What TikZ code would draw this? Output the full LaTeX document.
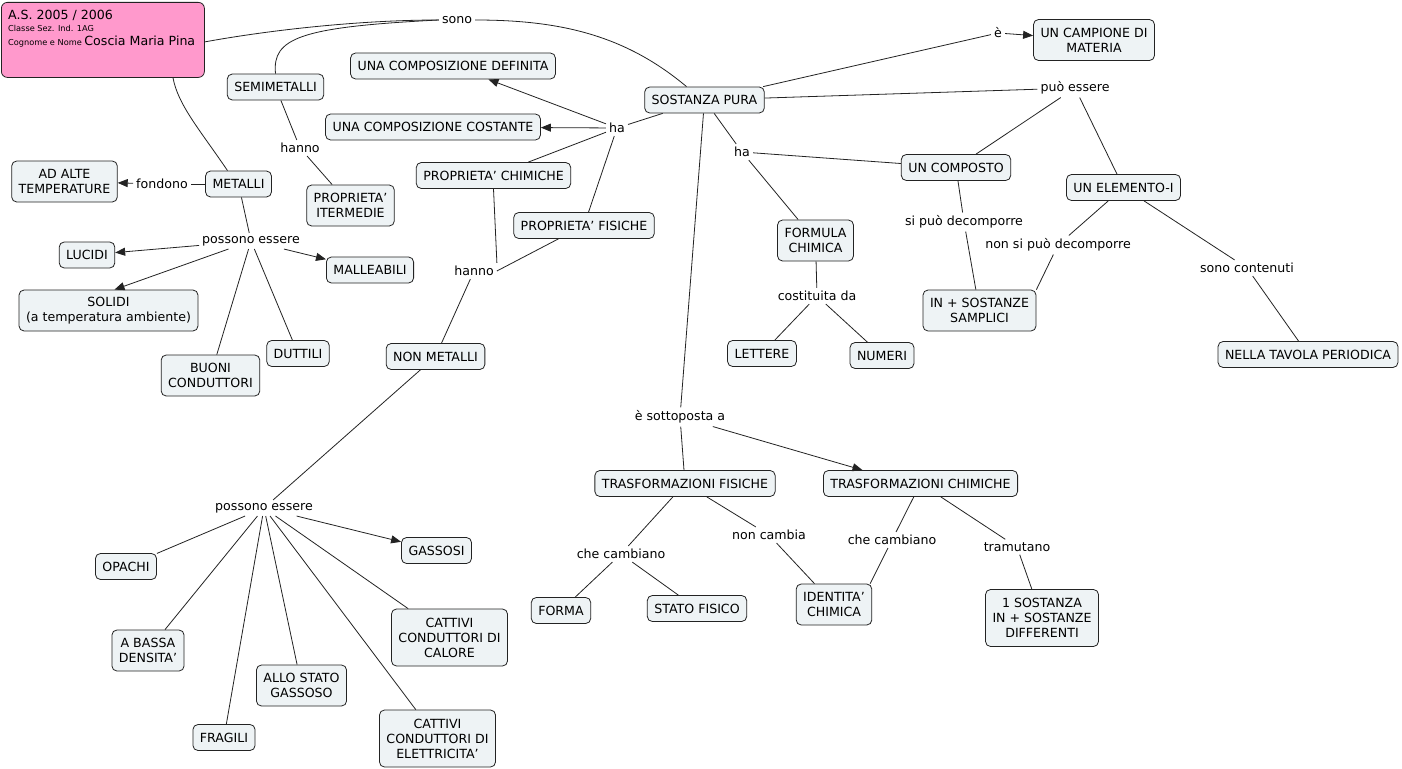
\documentclass[tikz,border=0pt]{standalone}
\usepackage{fontspec}
\setmainfont{DejaVu Sans}
\usetikzlibrary{arrows.meta}
\definecolor{boxfill}{RGB}{238,243,245}
\definecolor{pinkfill}{RGB}{255,153,204}
\definecolor{edgec}{RGB}{35,35,35}
\newcommand{\mapfont}{\fontsize{12.6}{15}\selectfont}
\newcommand{\tinyfont}{\fontsize{8.2}{9}\selectfont}
\begin{document}
\begin{tikzpicture}[x=1pt,y=-1pt,
  concept/.style={draw=edgec, fill=boxfill, rounded corners=5pt, line width=0.8pt,
    inner xsep=7pt, inner ysep=2pt, minimum height=26pt, align=center, font=\mapfont},
  two/.style={minimum height=41pt},
  three/.style={minimum height=57pt},
  lab/.style={inner sep=3pt, font=\mapfont},
  link/.style={draw=edgec, line width=0.8pt},
  arr/.style={link, -{Triangle[length=10pt,width=8pt]}}
]
\useasboundingbox (0,0) rectangle (1402,768);
\fill[white] (0,0) rectangle (1402,768);

% title
\node[draw=edgec, fill=pinkfill, rounded corners=6pt, line width=0.8pt, minimum width=203pt,
  minimum height=75pt, anchor=north west, inner sep=0pt] (title) at (1,2) {};
\node[anchor=base west, inner sep=0pt, font=\mapfont] (t1) at (8,20) {A.S. 2005 / 2006};
\node[anchor=base west, inner sep=0pt, font=\tinyfont] (t2) at (8,32) {Classe Sez. Ind. 1AG};
\node[anchor=base west, inner sep=0pt] (t3) at (8,46) {\tinyfont Cognome e Nome {\mapfont Coscia Maria Pina}};

% concepts
\node[concept] (semi) at (275.5,87) {SEMIMETALLI};
\node[concept] (def) at (453,66) {UNA COMPOSIZIONE DEFINITA};
\node[concept] (cost) at (433,127) {UNA COMPOSIZIONE COSTANTE};
\node[concept] (sp) at (704.5,100) {SOSTANZA PURA};
\node[concept,two] (camp) at (1094,40) {UN CAMPIONE DI\\MATERIA};
\node[concept,two] (alte) at (64.5,181.5) {AD ALTE\\TEMPERATURE};
\node[concept] (met) at (238.5,184) {METALLI};
\node[concept,two] (inter) at (350.5,205.5) {PROPRIETA'\\ITERMEDIE};
\node[concept] (chim) at (493.5,175.5) {PROPRIETA' CHIMICHE};
\node[concept] (fis) at (584,225.5) {PROPRIETA' FISICHE};
\node[concept] (comp) at (956,167.5) {UN COMPOSTO};
\node[concept] (elem) at (1123.5,187.5) {UN ELEMENTO-I};
\node[concept,two] (form) at (815.5,240.5) {FORMULA\\CHIMICA};
\node[concept] (luc) at (87,255) {LUCIDI};
\node[concept] (mall) at (370,270) {MALLEABILI};
\node[concept,two] (sol) at (108.5,310.5) {SOLIDI\\(a temperatura ambiente)};
\node[concept,two] (insost) at (979.5,310.5) {IN + SOSTANZE\\SAMPLICI};
\node[concept,two] (buoni) at (210.5,375.5) {BUONI\\CONDUTTORI};
\node[concept] (dutt) at (298,353.5) {DUTTILI};
\node[concept] (nonmet) at (435.5,356.5) {NON METALLI};
\node[concept] (lett) at (762,353.5) {LETTERE};
\node[concept] (num) at (882,355.5) {NUMERI};
\node[concept] (tav) at (1308,354.5) {NELLA TAVOLA PERIODICA};
\node[concept] (tf) at (685,483.5) {TRASFORMAZIONI FISICHE};
\node[concept] (tc) at (920.5,483.5) {TRASFORMAZIONI CHIMICHE};
\node[concept] (gas) at (436.5,550.5) {GASSOSI};
\node[concept] (opa) at (126,566.5) {OPACHI};
\node[concept] (forma) at (561,610.5) {FORMA};
\node[concept] (stato) at (697,608.5) {STATO FISICO};
\node[concept,two] (ident) at (834,604.5) {IDENTITA'\\CHIMICA};
\node[concept,three] (una) at (1042,618) {1 SOSTANZA\\IN + SOSTANZE\\DIFFERENTI};
\node[concept,three] (calore) at (449.5,637.5) {CATTIVI\\CONDUTTORI DI\\CALORE};
\node[concept,two] (bassa) at (148,650.5) {A BASSA\\DENSITA'};
\node[concept,two] (allo) at (301.5,685.5) {ALLO STATO\\GASSOSO};
\node[concept] (frag) at (224,737.5) {FRAGILI};
\node[concept,three] (elet) at (437.5,738.5) {CATTIVI\\CONDUTTORI DI\\ELETTRICITA'};

% link labels
\node[lab] (sono) at (457,20) {sono};
\node[lab] (e) at (998,33) {è};
\node[lab] (puo) at (1075,88) {può essere};
\node[lab] (ha1) at (617,128) {ha};
\node[lab] (ha2) at (742,152) {ha};
\node[lab] (hanno1) at (300,148) {hanno};
\node[lab] (fond) at (162,184) {fondono};
\node[lab] (pe1) at (251,241) {possono essere};
\node[lab] (hanno2) at (474,271) {hanno};
\node[lab] (sipuo) at (964,222) {si può decomporre};
\node[lab] (nonsi) at (1058,245) {non si può decomporre};
\node[lab] (cont) at (1247,268) {sono contenuti};
\node[lab] (costit) at (817,296) {costituita da};
\node[lab] (sottop) at (680,417) {è sottoposta a};
\node[lab] (pe2) at (264,508) {possono essere};
\node[lab] (cc1) at (621,554) {che cambiano};
\node[lab] (noncam) at (769,535) {non cambia};
\node[lab] (cc2) at (892,540) {che cambiano};
\node[lab] (tram) at (1017,547) {tramutano};

% curved links near the title
\draw[link] ([yshift=-2pt]title.east) .. controls (270,30) and (360,20) .. (sono.west);
\draw[link] (semi.north) .. controls (272,38) and (300,27) .. (sono.west);
\draw[link] ([xshift=172pt]title.south west) .. controls (178,105) and (200,130) .. ([xshift=-11pt]met.north);
\draw[link] (sono.east) .. controls (560,20) and (625,35) .. ([xshift=-18pt]sp.north);

% links
\draw[link] (sp) -- (e);
\draw[arr] (e) -- (camp);
\draw[link] (sp) -- (puo);
\draw[link] (puo) -- (comp);
\draw[link] (puo) -- (elem);
\draw[link] (sp) -- (ha1);
\draw[arr] (ha1) -- (def);
\draw[arr] (ha1) -- (cost);
\draw[link] (ha1) -- (chim);
\draw[link] (ha1) -- (fis);
\draw[link] (sp) -- (ha2);
\draw[link] (ha2) -- (comp);
\draw[link] (ha2) -- (form);
\draw[link] (sp) -- (sottop);
\draw[link] (sottop) -- (tf);
\draw[arr] (sottop) -- ([xshift=-58pt]tc.north);
\draw[link] (tf) -- (cc1);
\draw[link] (cc1) -- (forma);
\draw[link] (cc1) -- (stato);
\draw[link] (tf) -- (noncam);
\draw[link] (noncam) -- (ident);
\draw[link] (tc) -- (cc2);
\draw[link] (cc2) -- ([xshift=-2pt]ident.north east);
\draw[link] (tc) -- (tram);
\draw[link] (tram) -- (una);
\draw[link] (semi) -- (hanno1);
\draw[link] (hanno1) -- (inter);
\draw[link] (met) -- (fond);
\draw[arr] (fond) -- (alte);
\draw[link] (met) -- (pe1);
\draw[arr] (pe1) -- (luc);
\draw[arr] (pe1) -- ([xshift=6pt]sol.north);
\draw[arr] (pe1) -- (mall);
\draw[link] (pe1) -- (buoni);
\draw[link] (pe1) -- (dutt);
\draw[link] (chim.south) -- (hanno2.north east);
\draw[link] (fis) -- (hanno2.east);
\draw[link] (hanno2) -- (nonmet);
\draw[link] (nonmet) -- (pe2);
\draw[link] (pe2) -- (opa);
\draw[arr] (pe2) -- (gas);
\draw[link] (pe2) -- (bassa);
\draw[link] (pe2) -- (frag);
\draw[link] (pe2) -- (allo);
\draw[link] (pe2) -- (elet);
\draw[link] (pe2) -- (calore);
\draw[link] (comp) -- (sipuo);
\draw[link] (sipuo) -- (insost);
\draw[link] (elem) -- (nonsi);
\draw[link] (nonsi) -- (insost.north east);
\draw[link] (elem) -- (cont);
\draw[link] (cont) -- (tav);
\draw[link] (form) -- (costit);
\draw[link] (costit) -- (lett);
\draw[link] (costit) -- (num);
\end{tikzpicture}
\end{document}
